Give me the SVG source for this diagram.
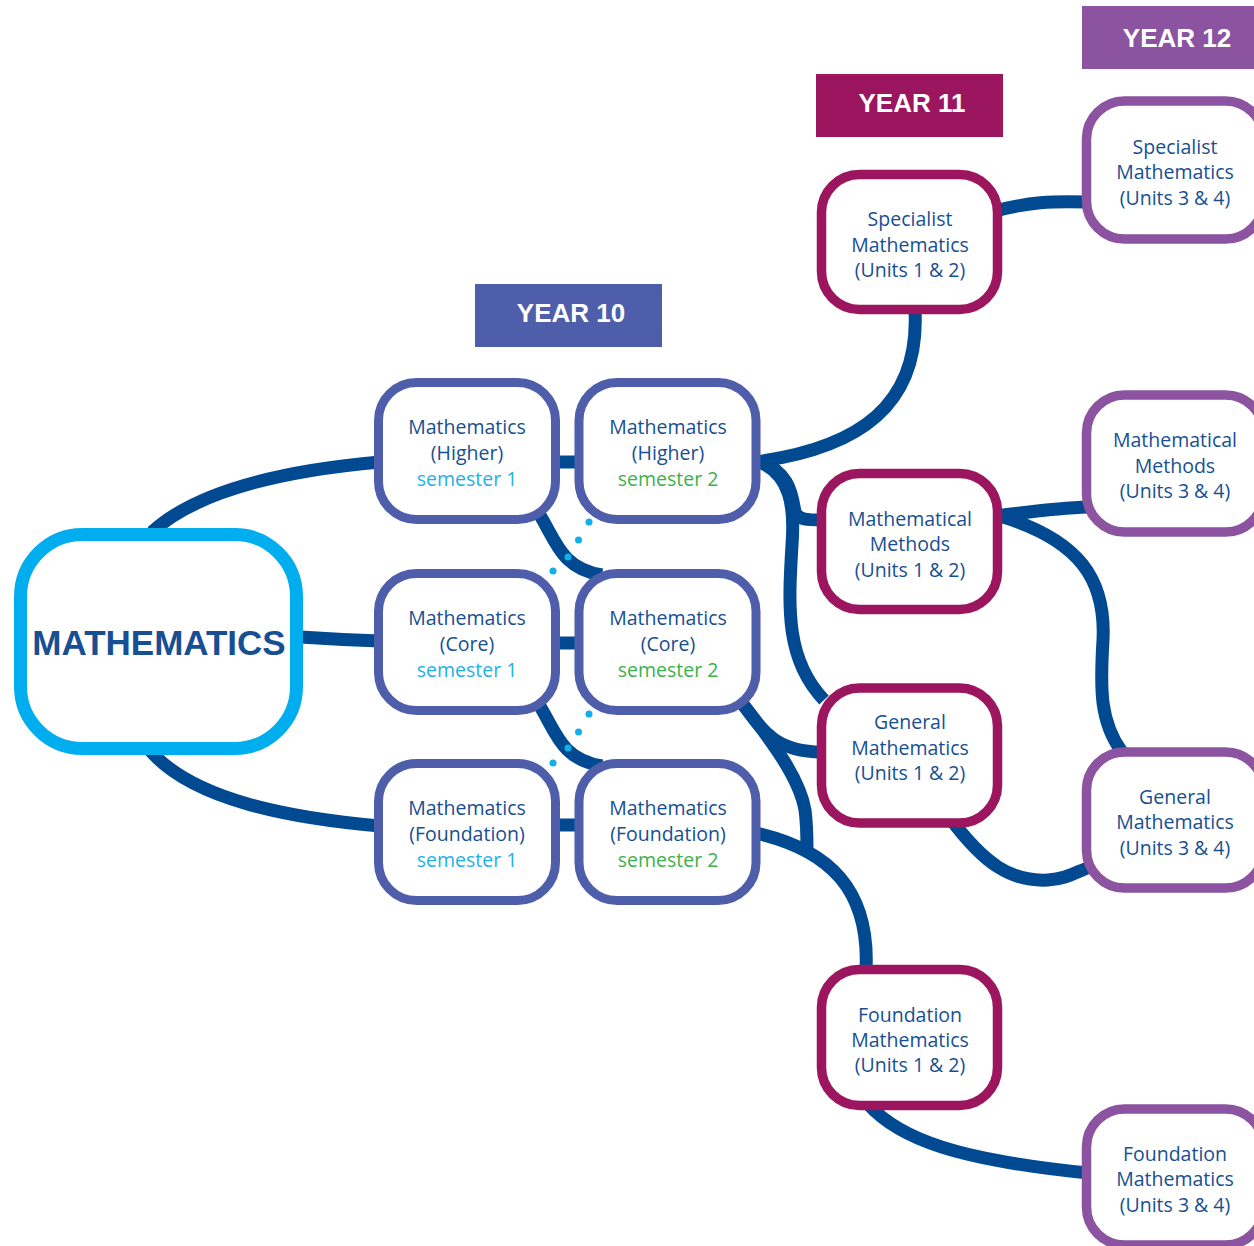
<svg xmlns="http://www.w3.org/2000/svg" width="1254" height="1246" viewBox="0 0 1254 1246">
<style>
.c{fill:none;stroke:#014a91;stroke-width:13;stroke-linecap:butt}
.y10{fill:#fff;stroke:#4f5eab;stroke-width:9}
.y11{fill:#fff;stroke:#9b165f;stroke-width:9.5}
.y12{fill:#fff;stroke:#8c53a0;stroke-width:9.5}
.t{font-family:"Open Sans","Liberation Sans",sans-serif;font-size:19.5px;fill:#174f92;text-anchor:middle}
.s1{fill:#1fb0ea}
.s2{fill:#3db24b}
.lbl{font-family:"Liberation Sans",Arial,sans-serif;font-weight:bold;font-size:26px;fill:#fff;text-anchor:middle}
.dot{fill:#12aeea}
</style>
<rect width="1254" height="1246" fill="#fff"/>
<g id="connectors">
<path class="c" d="M152,532 C200,488 290,470 380,462"/>
<path class="c" d="M300,637 C330,639 350,640 380,641"/>
<path class="c" d="M148,748 C190,800 290,818 380,826"/>
<path class="c" d="M555,462 L580,462"/>
<path class="c" d="M555,643 L580,643"/>
<path class="c" d="M555,825 L580,825"/>
<path class="c" d="M538,512 C556,540 560,568 602,575"/>
<path class="c" d="M538,703 C556,731 560,759 602,766"/>
<path class="c" d="M755,462 C860,448 920,405 915,310"/>
<path class="c" d="M755,460 C790,470 792,495 795,512 C798,520 808,520 822,520"/>
<path class="c" d="M760,462 C790,475 795,505 792,545 C788,610 786,660 824,700"/>
<path class="c" d="M742,703 C762,730 775,752 822,752"/>
<path class="c" d="M742,703 C775,745 800,780 805,810 C807,825 807,835 807,850"/>
<path class="c" d="M756,833 C830,850 870,890 866,970"/>
<path class="c" d="M995,211 C1030,202 1050,201 1088,202"/>
<path class="c" d="M995,516 C1030,512 1055,508 1088,507"/>
<path class="c" d="M1000,516 C1080,540 1106,580 1103,640 C1100,690 1100,722 1122,752"/>
<path class="c" d="M950,818 C985,865 1012,882 1048,880 C1066,879 1076,872 1090,867"/>
<path class="c" d="M868,1104 C900,1140 960,1160 1088,1173"/>
</g>
<g id="mathematics">
<rect x="20.5" y="534.5" width="276" height="214" rx="62" fill="#fff" stroke="#00aeef" stroke-width="13"/>
<text x="159" y="655" font-family="'Liberation Sans',Arial,sans-serif" font-weight="bold" font-size="35" fill="#174f92" text-anchor="middle">MATHEMATICS</text>
</g>
<g id="year10-label">
<rect x="475" y="284" width="187" height="63" fill="#4f5eab"/>
<text class="lbl" x="571" y="322">YEAR 10</text>
</g>
<g id="year11-label">
<rect x="816" y="74" width="187" height="63" fill="#9b165f"/>
<text class="lbl" x="912" y="112">YEAR 11</text>
</g>
<g id="year12-label">
<rect x="1082" y="6" width="172" height="63" fill="#8c53a0"/>
<text class="lbl" x="1177" y="47">YEAR 12</text>
</g>
<g id="higher-s1">
<rect class="y10" x="378.5" y="382.5" width="177" height="137" rx="38"/>
<text class="t" x="467" y="434">Mathematics</text>
<text class="t" x="467" y="460">(Higher)</text>
<text class="t s1" x="467" y="486">semester 1</text>
</g>
<g id="higher-s2">
<rect class="y10" x="579" y="382.5" width="177" height="137" rx="38"/>
<text class="t" x="668" y="434">Mathematics</text>
<text class="t" x="668" y="460">(Higher)</text>
<text class="t s2" x="668" y="486">semester 2</text>
</g>
<g id="core-s1">
<rect class="y10" x="378.5" y="573.5" width="177" height="137" rx="38"/>
<text class="t" x="467" y="625">Mathematics</text>
<text class="t" x="467" y="651">(Core)</text>
<text class="t s1" x="467" y="677">semester 1</text>
</g>
<g id="core-s2">
<rect class="y10" x="579" y="573.5" width="177" height="137" rx="38"/>
<text class="t" x="668" y="625">Mathematics</text>
<text class="t" x="668" y="651">(Core)</text>
<text class="t s2" x="668" y="677">semester 2</text>
</g>
<g id="foundation-s1">
<rect class="y10" x="378.5" y="763.5" width="177" height="137" rx="38"/>
<text class="t" x="467" y="815">Mathematics</text>
<text class="t" x="467" y="841">(Foundation)</text>
<text class="t s1" x="467" y="867">semester 1</text>
</g>
<g id="foundation-s2">
<rect class="y10" x="579" y="763.5" width="177" height="137" rx="38"/>
<text class="t" x="668" y="815">Mathematics</text>
<text class="t" x="668" y="841">(Foundation)</text>
<text class="t s2" x="668" y="867">semester 2</text>
</g>
<g id="dots">
<circle class="dot" cx="589" cy="522" r="3.5"/>
<circle class="dot" cx="578.5" cy="540" r="3.5"/>
<circle class="dot" cx="568" cy="557" r="3.5"/>
<circle class="dot" cx="553" cy="571" r="3.5"/>
<circle class="dot" cx="589" cy="714" r="3.5"/>
<circle class="dot" cx="578.5" cy="732" r="3.5"/>
<circle class="dot" cx="568" cy="748" r="3.5"/>
<circle class="dot" cx="553" cy="763" r="3.5"/>
</g>
<g id="specialist-12">
<rect class="y11" x="821.5" y="174.5" width="176" height="135" rx="38"/>
<text class="t" x="910" y="226">Specialist</text>
<text class="t" x="910" y="252">Mathematics</text>
<text class="t" x="910" y="277">(Units 1 &amp; 2)</text>
</g>
<g id="methods-12">
<rect class="y11" x="821.5" y="473.5" width="176" height="136" rx="38"/>
<text class="t" x="910" y="526">Mathematical</text>
<text class="t" x="910" y="551">Methods</text>
<text class="t" x="910" y="577">(Units 1 &amp; 2)</text>
</g>
<g id="general-12">
<rect class="y11" x="821.5" y="688" width="176" height="135" rx="38"/>
<text class="t" x="910" y="729">General</text>
<text class="t" x="910" y="755">Mathematics</text>
<text class="t" x="910" y="780">(Units 1 &amp; 2)</text>
</g>
<g id="foundation-12">
<rect class="y11" x="821.5" y="969.5" width="176" height="136" rx="38"/>
<text class="t" x="910" y="1022">Foundation</text>
<text class="t" x="910" y="1047">Mathematics</text>
<text class="t" x="910" y="1072">(Units 1 &amp; 2)</text>
</g>
<g id="specialist-34">
<rect class="y12" x="1086.5" y="101" width="177" height="138" rx="38"/>
<text class="t" x="1175" y="154">Specialist</text>
<text class="t" x="1175" y="179">Mathematics</text>
<text class="t" x="1175" y="205">(Units 3 &amp; 4)</text>
</g>
<g id="methods-34">
<rect class="y12" x="1086.5" y="395" width="177" height="137" rx="38"/>
<text class="t" x="1175" y="447">Mathematical</text>
<text class="t" x="1175" y="473">Methods</text>
<text class="t" x="1175" y="498">(Units 3 &amp; 4)</text>
</g>
<g id="general-34">
<rect class="y12" x="1086.5" y="752" width="177" height="136" rx="38"/>
<text class="t" x="1175" y="804">General</text>
<text class="t" x="1175" y="829">Mathematics</text>
<text class="t" x="1175" y="855">(Units 3 &amp; 4)</text>
</g>
<g id="foundation-34">
<rect class="y12" x="1086.5" y="1109" width="177" height="136" rx="38"/>
<text class="t" x="1175" y="1161">Foundation</text>
<text class="t" x="1175" y="1186">Mathematics</text>
<text class="t" x="1175" y="1212">(Units 3 &amp; 4)</text>
</g>
</svg>
